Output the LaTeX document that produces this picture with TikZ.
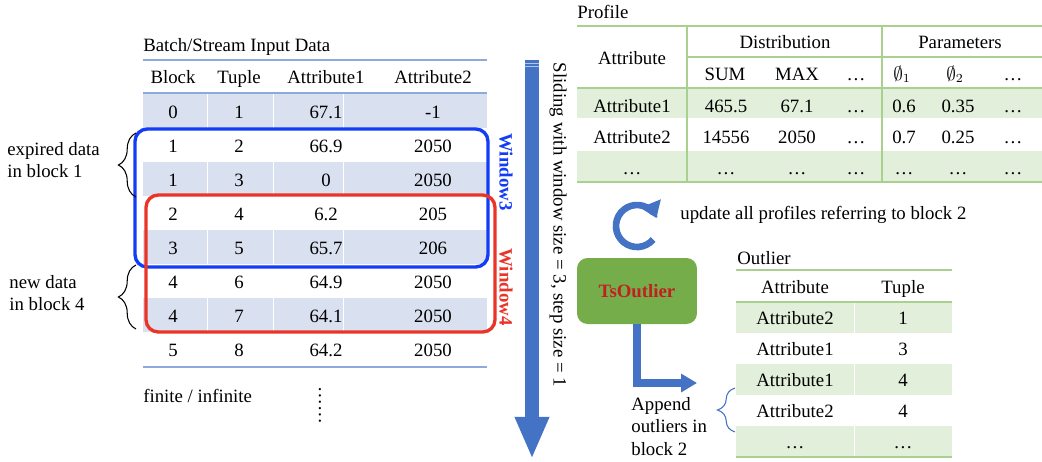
\documentclass[tikz,border=0pt]{standalone}
\usepackage{fontspec}
\setmainfont{Liberation Serif}
\usepackage{amssymb}
\usetikzlibrary{arrows.meta,calc,decorations.pathreplacing}

\definecolor{tblue}{RGB}{142,170,219}
\definecolor{tshade}{RGB}{217,224,240}
\definecolor{winblue}{RGB}{18,60,245}
\definecolor{winred}{RGB}{235,52,40}
\definecolor{arrowblue}{RGB}{68,114,196}
\definecolor{tgreen}{RGB}{169,208,142}
\definecolor{gshade}{RGB}{226,239,218}
\definecolor{boxgreen}{RGB}{118,173,75}
\definecolor{darkred}{RGB}{192,32,32}

\newcommand\figfont{\fontsize{10.7}{12.8}\selectfont}

\begin{document}
\begin{tikzpicture}[
    x=0.02cm, y=0.02cm,
    txt/.style={inner sep=0pt, font=\figfont},
    cell/.style={txt, anchor=base},
    bline/.style={draw=tblue, line width=0.8pt},
    gline/.style={draw=tgreen, line width=0.9pt},
    window/.style={rounded corners=7pt, line width=1.9pt},
    curly/.style={decorate, decoration={brace, amplitude=#1}, line width=0.6pt},
    fat/.style={draw=arrowblue, line width=4.4pt}
]
    \useasboundingbox (0,0) rectangle (1042,-461);

    % Input data table
    \node[txt, anchor=base west] (intitle) at (143,-51) {Batch/Stream Input Data};
    \foreach \i in {0,2,4,6} {
        \fill[tshade] (143,{-94-34*\i}) rectangle (487,{-128-34*\i});
    }
    \foreach \x in {207,273,343} {
        \draw[white, line width=0.5pt] (\x,-94) -- (\x,-366);
    }
    \draw[bline] (143,-60) -- (487,-60);
    \draw[bline] (143,-93) -- (487,-93);
    \draw[bline] (143,-367) -- (487,-367);
    \foreach \x/\t in {173/Block, 239/Tuple, 326/Attribute1, 433/Attribute2} {
        \node[cell] (inh-\t) at (\x,-83) {\t};
    }
    \foreach \b/\t/\p/\q [count=\r from 0] in {0/1/67.1/-1, 1/2/66.9/2050, 1/3/0/2050,
            2/4/6.2/205, 3/5/65.7/206, 4/6/64.9/2050, 4/7/64.1/2050, 5/8/64.2/2050} {
        \node[cell] (in-\r-1) at (173,{-118-34*\r}) {\b};
        \node[cell] (in-\r-2) at (239,{-118-34*\r}) {\t};
        \node[cell] (in-\r-3) at (326,{-118-34*\r}) {\p};
        \node[cell] (in-\r-4) at (433,{-118-34*\r}) {\q};
    }
    \node[txt, anchor=base west] (finite) at (143,-402) {finite / infinite};
    \node[txt, rotate=-90] (more) at (320,-405) {……};

    % Sliding windows
    \draw[window, winblue] (135,-129) rectangle (488,-267);
    \draw[window, winred] (146,-195) rectangle (495,-332);
    \node[txt, font=\figfont\bfseries, text=winblue, rotate=-90] (win3) at (506,-172) {Window3};
    \node[txt, font=\figfont\bfseries, text=winred, rotate=-90] (win4) at (506,-287) {Window4};

    % Expired and new data
    \node[txt, anchor=west, align=left] (expired) at (7,-160) {expired data\\in block 1};
    \node[txt, anchor=west, align=left] (newdata) at (9,-293) {new data\\in block 4};
    \draw[curly=10pt] (136,-197) -- (136,-133);
    \draw[curly=10pt] (136,-329) -- (136,-265);

    % Sliding direction
    \coordinate (slidetop) at (532,-60);
    \coordinate (slideend) at (532,-459);
    \draw[draw=arrowblue, line width=8.5pt, -{Triangle[length=24pt, width=18pt]}] (slidetop) -- (slideend);
    \draw[white, opacity=0.6, line width=0.5pt] (524,-63) -- (540,-63);
    \draw[white, opacity=0.6, line width=0.5pt] (524,-66) -- (540,-66);
    \node[txt, rotate=-90] (slide) at (558,-225) {Sliding with window size = 3, step size = 1};

    % Profile table
    \node[txt, anchor=base west] (proftitle) at (577,-18) {Profile};
    \fill[gshade] (577,-88) rectangle (1042,-118);
    \fill[gshade] (577,-151) rectangle (1042,-181);
    \draw[gline] (577,-26) -- (1042,-26);
    \draw[gline] (687,-57) -- (1042,-57);
    \draw[gline, line width=1.2pt] (577,-88) -- (1042,-88);
    \draw[gline, line width=1.2pt] (577,-182) -- (1042,-182);
    \draw[gline] (687,-26) -- (687,-182);
    \draw[gline] (882,-26) -- (882,-182);
    \node[cell] (ph-attr) at (632,-64) {Attribute};
    \node[cell] (ph-dist) at (785,-48) {Distribution};
    \node[cell] (ph-par) at (960,-48) {Parameters};
    \foreach \x/\t [count=\c] in {725/SUM, 797/MAX, 856/…, 902/$\emptyset_1$, 955/$\emptyset_2$, 1013/…} {
        \node[cell] (ps-\c) at (\x,-80) {\t};
    }
    \foreach \a/\s/\m/\d/\f/\g/\h/\y [count=\r] in {Attribute1/465.5/67.1/…/0.6/0.35/…/112,
            Attribute2/14556/2050/…/0.7/0.25/…/143, …/…/…/…/…/…/…/174} {
        \node[cell] (p-\r-1) at (632,-\y) {\a};
        \node[cell] (p-\r-2) at (726,-\y) {\s};
        \node[cell] (p-\r-3) at (797,-\y) {\m};
        \node[cell] (p-\r-4) at (856,-\y) {\d};
        \node[cell] (p-\r-5) at (904,-\y) {\f};
        \node[cell] (p-\r-6) at (958,-\y) {\g};
        \node[cell] (p-\r-7) at (1013,-\y) {\h};
    }

    % Update loop
    \coordinate (loop) at (637,-226);
    \draw[draw=arrowblue, line width=3.8pt, -{Triangle[length=9pt, width=12pt]}]
        ([shift={(-40:21)}]loop) arc[start angle=-40, end angle=-338, radius=21];
    \node[txt, anchor=base west] (update) at (680,-219) {update all profiles referring to block 2};

    % Detector
    \node[fill=boxgreen, rounded corners=6pt, minimum width=2.4cm, minimum height=1.32cm,
          inner sep=0pt, font=\figfont\bfseries, text=darkred] (ts) at (637,-291) {TsOutlier};
    \coordinate (apptip) at (697,-383);
    \draw[fat, -{Triangle[length=9pt, width=10pt]}] (ts.south) |- (apptip);
    \node[txt, anchor=north west, align=left] (append) at (631,-397) {Append\\outliers in\\block 2};
    \draw[curly=10pt, draw=arrowblue] (735,-432) -- (735,-388);

    % Outlier table
    \node[txt, anchor=base west] (outtitle) at (737,-264) {Outlier};
    \foreach \i in {0,2,4} {
        \fill[gshade] (736,{-302-31*\i}) rectangle (952,{-333-31*\i});
    }
    \draw[white, line width=0.5pt] (854,-302) -- (854,-457);
    \draw[gline] (736,-270) -- (952,-270);
    \draw[gline, line width=1.2pt] (736,-302) -- (952,-302);
    \draw[gline, line width=1.2pt] (736,-457) -- (952,-457);
    \node[cell] (oh-attr) at (795,-293) {Attribute};
    \node[cell] (oh-tup) at (903,-293) {Tuple};
    \foreach \a/\t [count=\r from 0] in {Attribute2/1, Attribute1/3, Attribute1/4, Attribute2/4, …/…} {
        \node[cell] (o-\r-1) at (795,{-324-31*\r}) {\a};
        \node[cell] (o-\r-2) at (903,{-324-31*\r}) {\t};
    }

\end{tikzpicture}
\end{document}
